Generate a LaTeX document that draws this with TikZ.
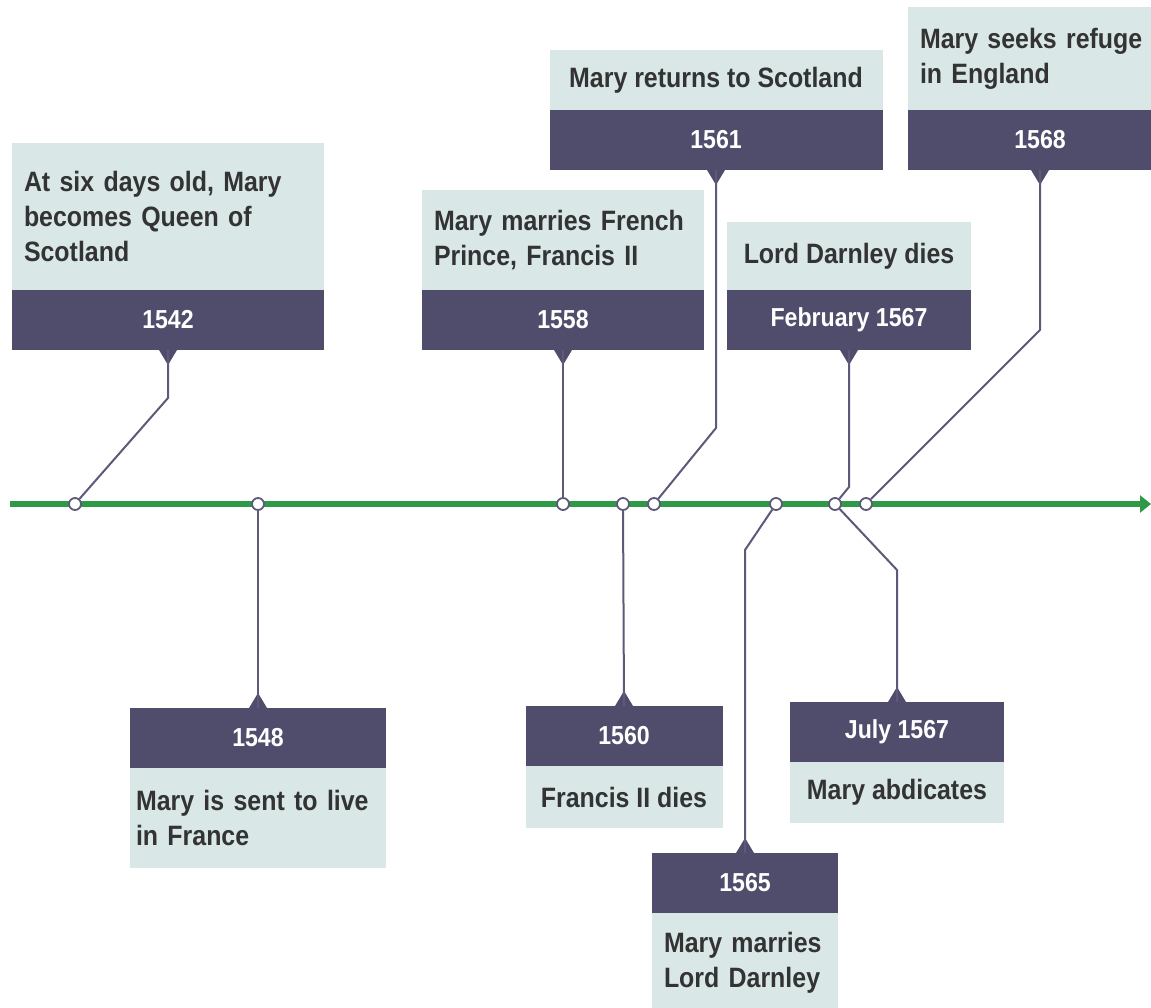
\documentclass[tikz,border=0pt]{standalone}
\usepackage{fontspec}
\setmainfont{Liberation Sans}[FakeStretch=0.89]
\usepackage{tikz}
\usetikzlibrary{positioning, arrows.meta}
\definecolor{band}{HTML}{4F4D6B}
\definecolor{panel}{HTML}{D9E7E7}
\definecolor{stem}{HTML}{5C5A78}
\definecolor{axis}{HTML}{2E9A48}
\definecolor{ink}{HTML}{333333}
\tikzset{
  yearbox/.style={fill=band, text=white, font=\fontsize{26}{30}\selectfont\bfseries,
    minimum height=60pt, minimum width=#1, inner sep=0pt, outer sep=0pt},
  infobox/.style={fill=panel, text=ink, font=\fontsize{28}{35}\selectfont\bfseries,
    text width=#1, align=left, inner xsep=12pt, inner ysep=0pt, outer sep=0pt},
  notebox/.style={fill=panel, text=ink, font=\fontsize{28}{35}\selectfont\bfseries,
    minimum width=#1, inner xsep=12pt, inner ysep=0pt, outer sep=0pt},
  dot/.style={circle, draw=stem, fill=white, line width=1.8pt, minimum size=12pt, inner sep=0pt},
  stemline/.style={draw=stem, line width=2pt}
}
\newcommand{\tipdown}[1]{\fill[band] (#1.south) ++(-9,0) -- ++(18,0) -- ++(-9,15) -- cycle;}
\newcommand{\tipup}[1]{\fill[band] (#1.north) ++(-9,0) -- ++(18,0) -- ++(-9,-15) -- cycle;}

\begin{document}
\begin{tikzpicture}[x=1pt, y=-1pt]
\useasboundingbox (0,0) rectangle (1151,1008);
\clip (0,0) rectangle (1151,1008);

% draw timeline
\coordinate (start) at (10,504);
\coordinate (end) at (1151,504);
\draw[axis, line width=6pt, -{Triangle[length=11pt,width=17pt]}] (start) -- (end);

% dots on the timeline
\foreach \x/\name in {75/1542, 258/1548, 563/1558, 623/1560, 654/1561, 776/1565, 835/1567, 866/1568}
\node[dot] (d\name) at (\x,504) {};

% years above the line
\node[yearbox=312pt] (y1542) at (168,320) {1542};
\node[yearbox=282pt] (y1558) at (563,320) {1558};
\node[yearbox=333pt] (y1561) at (716,140) {1561};
\node[yearbox=244pt] (yfeb) at (849,320) {February 1567};
\node[yearbox=264pt] (y1568) at (1040,140) {1568};

% years below the line
\node[yearbox=256pt] (y1548) at (258,738) {1548};
\node[yearbox=197pt] (y1560) at (624,736) {1560};
\node[yearbox=186pt] (y1565) at (745,883) {1565};
\node[yearbox=214pt] (yjul) at (897,732) {July 1567};

% event texts
\node[infobox=288pt, minimum height=147pt, above=0pt of y1542] (t1542)
  {At six days old, Mary\\becomes Queen of\\Scotland};
\node[infobox=258pt, minimum height=100pt, above=0pt of y1558] (t1558)
  {Mary marries French\\Prince, Francis II};
\node[notebox=333pt, minimum height=60pt, above=0pt of y1561] (t1561)
  {Mary returns to Scotland};
\node[notebox=244pt, minimum height=68pt, above=0pt of yfeb] (tfeb)
  {Lord Darnley dies};
\node[infobox=240pt, minimum height=103pt, above=0pt of y1568] (t1568)
  {Mary seeks refuge\\in England};
\node[infobox=244pt, inner xsep=6pt, minimum height=100pt, below=0pt of y1548] (t1548)
  {Mary is sent to live\\in France};
\node[notebox=197pt, minimum height=62pt, below=0pt of y1560] (t1560)
  {Francis II dies};
\node[infobox=162pt, minimum height=100pt, below=0pt of y1565] (t1565)
  {Mary marries\\Lord Darnley};
\node[notebox=214pt, minimum height=61pt, below=0pt of yjul] (tjul)
  {Mary abdicates};

% pointers
\foreach \name in {y1542, y1558, y1561, yfeb, y1568}
  {\tipdown{\name}}
\foreach \name in {y1548, y1560, y1565, yjul}
  {\tipup{\name}}

% connectors
\draw[stemline] (y1542.south) -- ++(0,48) -- (d1542);
\draw[stemline] (y1558.south) -- (d1558);
\draw[stemline] (y1561.south) -- ++(0,258) -- (d1561);
\draw[stemline] (yfeb.south) -- ++(0,137) -- (d1567);
\draw[stemline] (y1568.south) -- ++(0,160) -- (d1568);
\draw[stemline] (y1548.north) -- (d1548);
\draw[stemline] (y1560.north) -- (d1560);
\draw[stemline] (y1565.north) -- ++(0,-303) -- (d1565);
\draw[stemline] (yjul.north) -- ++(0,-132) -- (d1567);
\end{tikzpicture}
\end{document}
